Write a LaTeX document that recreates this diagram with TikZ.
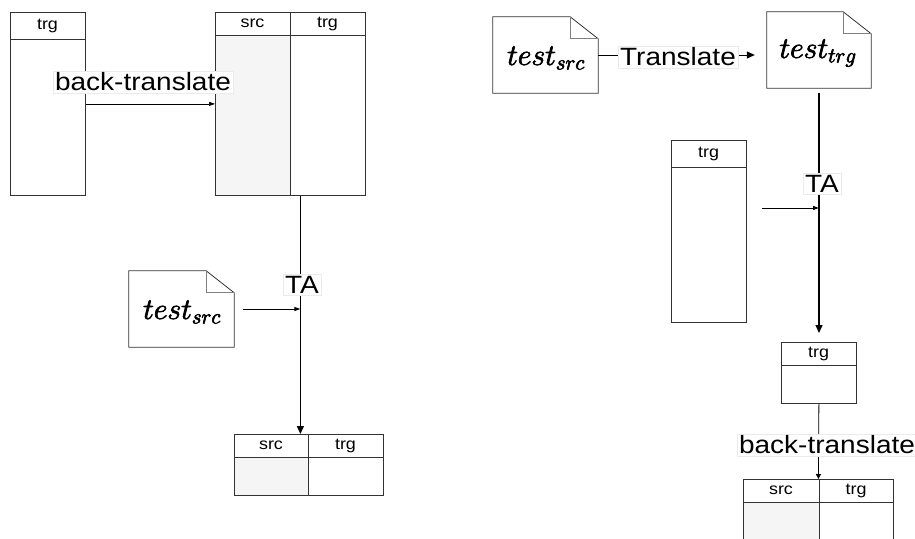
\RequirePackage{fix-cm}
\documentclass[tikz,border=0pt]{standalone}
\usepackage{fontspec}
\setmainfont{Liberation Sans}
\newfontfamily\lblfont[FakeStretch=1.12]{Liberation Sans}
\usetikzlibrary{arrows.meta}
\definecolor{colgray}{HTML}{F5F5F5}
\definecolor{bord}{HTML}{333333}
\newcommand\drawdoc[1]{%
  \draw[docline] (#1.north west) -- ([xshift=-28pt]#1.north east) -- ([yshift=-22pt]#1.north east) -- (#1.south east) -- (#1.south west) -- cycle;
  \draw[foldline] ([xshift=-28pt]#1.north east) |- ([yshift=-22pt]#1.north east);}
\newcommand\doctext[1]{{\special{pdf:literal 2 Tr 0.7 w}\fontsize{30}{33}\selectfont$test_{#1}$\special{pdf:literal 0 Tr}}}
\begin{document}
\begin{tikzpicture}[x=1pt,y=-1pt,
  box/.style={draw=bord, line width=0.8pt, inner sep=0pt, anchor=north west},
  sepline/.style={draw=bord, line width=0.8pt},
  lbl/.style={fill=white, draw=black!8, font=\lblfont\fontsize{25}{28}\selectfont, inner sep=2pt},
  hdr/.style={font=\lblfont\fontsize{16}{18}\selectfont, inner sep=0pt},
  docbox/.style={inner sep=0pt},
  docline/.style={draw=bord, line width=0.8pt},
  foldline/.style={draw=gray, line width=0.8pt},
  doctxt/.style={inner sep=0pt, text=black},
  flow/.style={draw=black, line width=1.3pt, -{Triangle[length=8pt,width=7pt]}},
  thinarr/.style={draw=black, line width=0.7pt, -{Triangle[length=6pt,width=4pt]}},
  smallarr/.style={draw=black, line width=0.8pt, -{Triangle[length=5pt,width=5pt]}}]
\useasboundingbox (0,0) rectangle (915,538);
\clip (0,0) rectangle (915,538);

% ---------- left part ----------
\node[box, minimum width=75pt, minimum height=183pt] (A) at (10,12) {};
\draw[sepline] (10,39) -- (85,39);
\node[hdr] (Ah) at (47.5,25.5) {trg};

\fill[colgray] (215,35) rectangle (290,195);
\node[box, minimum width=150pt, minimum height=183pt] (B) at (215,12) {};
\draw[sepline] (290,12) -- (290,195);
\draw[sepline] (215,35) -- (365,35);
\node[hdr] (Bs) at (252.5,23.5) {src};
\node[hdr] (Bt) at (327.5,23.5) {trg};

\draw[thinarr] (A.east) -- (B.west);
\node[lbl] (bt1) at (143,82) {back-translate};

\node[docbox, minimum width=105pt, minimum height=76pt] (d1) at (181.5,309) {};
\drawdoc{d1}
\node[doctxt] (d1t) at (182,312) {\doctext{src}};

\fill[colgray] (234,457) rectangle (308,495);
\node[box, minimum width=149pt, minimum height=61pt] (C) at (234,434) {};
\draw[sepline] (308,434) -- (308,495);
\draw[sepline] (234,457) -- (383,457);
\node[hdr] (Cs) at (271,445.5) {src};
\node[hdr] (Ct) at (345.5,445.5) {trg};

\coordinate (s1) at ([xshift=10pt]B.south);
\coordinate (e1) at (C.north -| s1);
\coordinate (j1) at (s1 |- d1.east);
\draw[flow] (s1) -- (e1);
\draw[thinarr, line width=1pt] ([xshift=9pt]d1.east) -- (j1);
\node[lbl] (ta1) at (302,285) {TA};

% ---------- right part ----------
\node[docbox, minimum width=105pt, minimum height=76pt] (d2) at (545.5,55) {};
\drawdoc{d2}
\node[doctxt] (d2t) at (546,58) {\doctext{src}};
\node[docbox, minimum width=104pt, minimum height=76pt] (d3) at (819,50) {};
\drawdoc{d3}
\node[doctxt] (d3t) at (818,53) {\doctext{trg}};

\draw[flow, line width=1pt] (d2.east) -- ([xshift=-12pt]d2.east -| d3.west);
\node[lbl] (tr) at (678,57) {Translate};

\node[box, minimum width=75pt, minimum height=182pt] (D) at (671,140) {};
\draw[sepline] (671,167) -- (746,167);
\node[hdr] (Dh) at (708.5,153.5) {trg};

\node[box, minimum width=75pt, minimum height=61pt] (E) at (781,342) {};
\draw[sepline] (781,365) -- (856,365);
\node[hdr] (Eh) at (818.5,353.5) {trg};

\fill[colgray] (743,502) rectangle (819,570);
\node[box, minimum width=150pt, minimum height=90pt] (F) at (743,479) {};
\draw[sepline] (819,479) -- (819,569);
\draw[sepline] (743,502) -- (893,502);
\node[hdr] (Fs) at (781,490.5) {src};
\node[hdr] (Ft) at (856,490.5) {trg};

\coordinate (s2) at ([yshift=-5pt]d3.south);
\coordinate (e2) at ([yshift=9pt]E.north -| s2);
\coordinate (a2) at (762,208);
\coordinate (j2) at (s2 |- a2);
\draw[flow] (s2) -- (e2);
\draw[thinarr, line width=1pt] (a2) -- (j2);
\node[lbl] (ta2) at (822,184) {TA};

\draw[smallarr] (E.south) -- (F.north);
\node[lbl] (bt2) at (827,445) {back-translate};
\end{tikzpicture}
\end{document}
